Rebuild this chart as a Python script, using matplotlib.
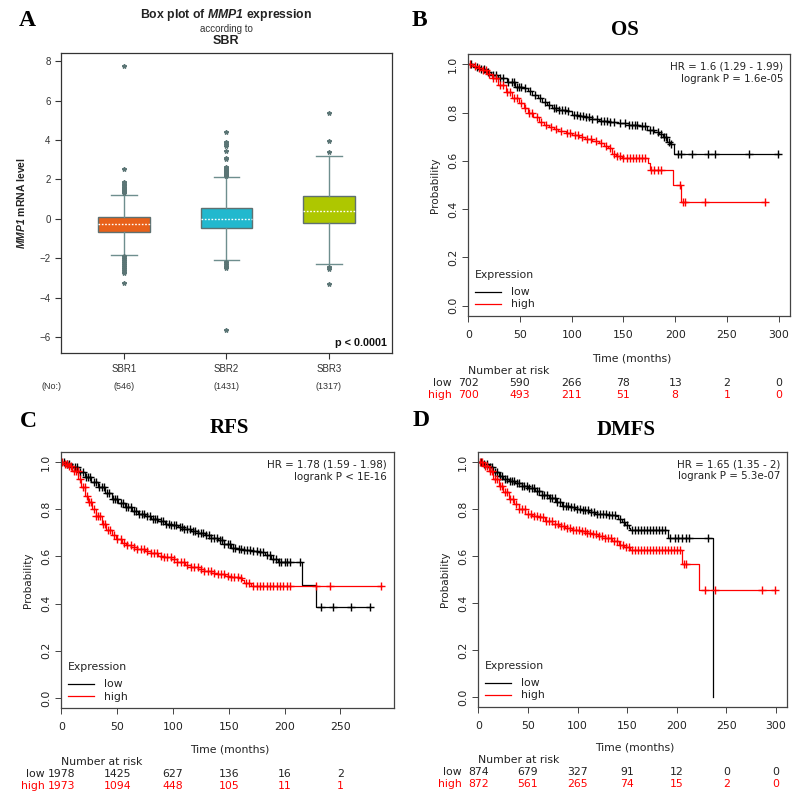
import numpy as np
import matplotlib
matplotlib.use("Agg")
import matplotlib.pyplot as plt
import matplotlib.transforms as mtransforms
from matplotlib.lines import Line2D

plt.rcParams['mathtext.fontset'] = 'custom'
plt.rcParams['mathtext.bfit'] = 'Liberation Sans:italic:bold'
plt.rcParams['mathtext.it'] = 'Liberation Sans:italic'

# ---------------- Panel A data ----------------
groups = ["SBR1", "SBR2", "SBR3"]
group_n = ["(546)", "(1431)", "(1317)"]
box_q1 = [-0.68, -0.48, -0.22]
box_med = [-0.25, 0.0, 0.38]
box_q3 = [0.08, 0.55, 1.18]
whisk_lo = [-1.82, -2.10, -2.30]
whisk_hi = [1.22, 2.10, 3.20]
fliers_sbr1 = [1.3, 1.35, 1.4, 1.45, 1.5, 1.55, 1.6, 1.7, 1.75, 1.85, 2.55, 7.75,
               -1.9, -2.0, -2.1, -2.2, -2.3, -2.4, -2.5, -2.6, -2.7, -2.75, -3.25]
fliers_sbr2 = [2.15, 2.2, 2.25, 2.3, 2.35, 2.4, 2.45, 2.5, 2.55, 2.6, 2.65, 3.05, 3.1,
               3.45, 3.7, 3.8, 3.9, 4.4, -2.2, -2.3, -2.4, -2.45, -2.5, -5.65]
fliers_sbr3 = [3.4, 3.95, 5.35, -2.45, -2.55, -3.3]
box_colors = ["#E8611A", "#22B8CE", "#AEC700"]

# ---------------- Panel B (OS) ----------------
B_low_t = [0, 5, 10, 16, 22, 29, 37, 45, 53, 58, 62, 67, 71, 76, 81, 88, 94, 100, 107, 113,
           120, 126, 135, 145, 155, 165, 173, 180, 184, 188, 192, 195, 198.5, 300]
B_low_s = [1.0, 0.99, 0.98, 0.969, 0.955, 0.942, 0.925, 0.907, 0.90, 0.888, 0.873, 0.86, 0.845,
           0.832, 0.818, 0.81, 0.807, 0.79, 0.786, 0.783, 0.775, 0.767, 0.762, 0.756, 0.75, 0.745,
           0.728, 0.72, 0.712, 0.70, 0.68, 0.672, 0.629, 0.629]
B_low_c = [3, 8, 12, 15, 19, 24, 27, 31, 34, 38, 42, 44, 47, 49, 51, 55, 60, 64, 69, 74, 78, 83,
           85, 88, 91, 93, 96, 102, 105, 108, 111, 114, 117, 120, 124, 128, 131, 134, 137, 141,
           147, 151, 155, 158, 161, 163, 168, 171, 176, 179, 183, 186, 189, 191, 194, 196, 203,
           205.6, 215.9, 231.4, 238.5, 271.3, 299.6]
B_high_t = [0, 5, 9, 13, 18, 23, 29, 36, 42, 49, 54, 58, 63, 68, 73, 78, 83, 87, 94, 100, 107,
            113, 120, 126, 131, 135.5, 138.7, 143, 148.4, 173.5, 175.7, 197.5, 205.9, 287.2]
B_high_s = [1.0, 0.995, 0.985, 0.976, 0.96, 0.942, 0.915, 0.887, 0.862, 0.838, 0.82, 0.797, 0.78,
            0.763, 0.75, 0.742, 0.733, 0.724, 0.716, 0.707, 0.70, 0.691, 0.682, 0.673, 0.662,
            0.652, 0.629, 0.62, 0.611, 0.59, 0.563, 0.50, 0.429, 0.429]
B_high_c = [2, 6, 10, 14, 17, 20, 24, 27, 31, 34, 37, 40, 44, 47, 51, 55, 59, 62, 66, 70, 75, 80,
            85, 90, 95, 98, 103, 106, 110, 115, 119, 123, 128, 133, 137, 141, 144, 147, 150, 153,
            156, 159, 162, 165, 168, 171, 177, 180, 183, 186, 204.9, 207.2, 209.8, 228.4, 287.2]
B_risk_t = [0, 50, 100, 150, 200, 250, 300]
B_risk_low = [702, 590, 266, 78, 13, 2, 0]
B_risk_high = [700, 493, 211, 51, 8, 1, 0]

# ---------------- Panel C (RFS) ----------------
C_low_t = [0, 4, 9.2, 15, 21.1, 27, 33, 39, 45, 51, 56.9, 63, 68.8, 75, 80.7, 87, 92.6, 98,
           104.5, 110, 116.4, 122, 128.3, 134, 140.2, 146, 152.2, 158, 164, 170, 176, 182,
           187.8, 193.8, 215.7, 228.5, 276.8]
C_low_s = [1.0, 0.992, 0.978, 0.958, 0.936, 0.914, 0.893, 0.868, 0.844, 0.826, 0.809, 0.794,
           0.781, 0.770, 0.760, 0.749, 0.739, 0.732, 0.725, 0.716, 0.707, 0.699, 0.690, 0.680,
           0.669, 0.652, 0.634, 0.630, 0.627, 0.622, 0.617, 0.604, 0.591, 0.577, 0.479, 0.385,
           0.385]
C_low_c = [2, 5, 7, 10, 12, 14, 17, 19, 22, 24, 26, 29, 31, 34, 36, 38, 41, 43, 46, 48, 50, 53,
           55, 58, 60, 62, 65, 67, 70, 72, 74, 77, 79, 82, 84, 86, 89, 91, 94, 96, 98, 101, 103,
           106, 108, 110, 113, 115, 118, 120, 122, 125, 127, 130, 132, 134, 137, 139, 142, 144,
           146, 149, 151, 154, 156, 159, 161, 164, 166, 169, 172, 175, 178, 181, 184, 187, 190,
           192, 195, 197, 200, 202, 205, 213.6, 232.6, 243.3, 259.4, 276.7]
C_high_t = [0, 3, 6.3, 10, 15.2, 18, 21.2, 24, 27.1, 31, 36, 40, 45, 49, 53.9, 58, 62.8, 68,
            74.7, 80, 86.6, 92, 98.5, 104, 110.5, 116, 122.4, 128, 134.3, 140, 146.2, 152,
            159.6, 162, 164, 170, 287.6]
C_high_s = [1.0, 0.993, 0.985, 0.962, 0.928, 0.895, 0.858, 0.83, 0.802, 0.77, 0.739, 0.714,
            0.690, 0.673, 0.659, 0.649, 0.640, 0.632, 0.622, 0.613, 0.603, 0.596, 0.589, 0.577,
            0.563, 0.555, 0.547, 0.539, 0.531, 0.524, 0.518, 0.514, 0.510, 0.50, 0.486, 0.475,
            0.475]
C_high_c = [1, 3, 5, 7, 9, 11, 13, 15, 17, 19, 21, 23, 25, 27, 29, 31, 33, 35, 37, 39, 42, 44,
            47, 50, 53, 56, 59, 62, 65, 68, 71, 74, 77, 80, 83, 86, 89, 92, 95, 98, 101, 104, 107,
            110, 113, 116, 119, 122, 125, 128, 131, 134, 137, 140, 143, 146, 149, 152, 155, 158,
            161, 165, 168, 172, 175, 178, 181, 184, 187, 190, 193, 196, 199, 202, 205, 228.4,
            240.4, 286]
C_risk_t = [0, 50, 100, 150, 200, 250]
C_risk_low = [1978, 1425, 627, 136, 16, 2]
C_risk_high = [1973, 1094, 448, 105, 11, 1]

# ---------------- Panel D (DMFS) ----------------
D_low_t = [0, 5, 10.4, 15, 20.5, 25, 30.6, 37, 44, 50, 57.5, 64, 70.9, 78, 84.4, 91, 97.8, 104,
           111.2, 118, 124.7, 131, 138.1, 141, 144.8, 148, 151.5, 153.2, 191.2, 236.2]
D_low_s = [1.0, 0.99, 0.977, 0.958, 0.942, 0.93, 0.921, 0.911, 0.900, 0.891, 0.879, 0.862, 0.846,
           0.83, 0.815, 0.808, 0.801, 0.794, 0.786, 0.781, 0.777, 0.773, 0.770, 0.758, 0.744,
           0.73, 0.719, 0.709, 0.678, 0.0]
D_low_c = [3, 6, 9, 12, 14, 17, 19, 22, 24, 27, 29, 32, 34, 36, 39, 41, 44, 46, 49, 51, 54, 56,
           59, 61, 64, 66, 69, 72, 74, 77, 79, 82, 85, 88, 90, 93, 96, 99, 102, 105, 108, 111, 114,
           117, 120, 123, 126, 129, 132, 135, 138, 143, 147, 150, 155, 158, 161, 164, 167, 170,
           173, 176, 179, 182, 185, 188, 193.5, 197.9, 201.6, 205.7, 209, 212.7, 231.5]
D_high_t = [0, 5, 10.4, 15, 20.5, 25, 30.6, 36, 40.7, 47.4, 54, 60.8, 67, 74.2, 81, 87.7, 94,
            101.1, 108, 114.5, 121, 127.9, 135, 141.4, 147, 153.2, 205.2, 222, 299.3]
D_high_s = [1.0, 0.985, 0.963, 0.93, 0.900, 0.872, 0.843, 0.82, 0.801, 0.779, 0.772, 0.765,
            0.751, 0.737, 0.728, 0.719, 0.712, 0.706, 0.70, 0.695, 0.686, 0.676, 0.662, 0.648,
            0.637, 0.627, 0.565, 0.454, 0.454]
D_high_c = [2, 4, 7, 9, 12, 14, 17, 19, 22, 24, 27, 29, 32, 35, 38, 41, 44, 47, 50, 53, 56, 59,
            62, 65, 68, 71, 74, 77, 80, 83, 86, 89, 92, 95, 98, 101, 104, 107, 110, 113, 116, 119,
            122, 125, 128, 131, 134, 137, 140, 143, 146, 149, 152, 155, 158, 161, 164, 167, 170,
            173, 176, 179, 182, 185, 188, 191, 194, 197, 200, 203, 207, 209.3, 228.1, 238.9,
            285.9, 299.3]
D_risk_t = [0, 50, 100, 150, 200, 250, 300]
D_risk_low = [874, 679, 327, 91, 12, 0, 0]
D_risk_high = [872, 561, 265, 74, 15, 2, 0]

W, H = 800, 799
fig = plt.figure(figsize=(W / 100, H / 100), dpi=100)


def fx(px):
    return px / W


def fy(py):
    return 1 - py / H


def axes_px(l, t, r, b):
    return fig.add_axes([fx(l), fy(b), (r - l) / W, (b - t) / H])


SERIF = "Liberation Serif"
ARIAL = "Liberation Sans"
KMF = "DejaVu Sans"

# ================= Panel A =================
axA = axes_px(61, 53, 392, 353)
stats = []
for i, fl in enumerate([fliers_sbr1, fliers_sbr2, fliers_sbr3]):
    stats.append(dict(med=box_med[i], q1=box_q1[i], q3=box_q3[i], whislo=whisk_lo[i],
                      whishi=whisk_hi[i], fliers=fl, label=groups[i]))
bp = axA.bxp(stats, positions=[1, 2, 3], widths=0.5, patch_artist=True, showfliers=True,
             boxprops=dict(edgecolor="#5E7070", linewidth=1.0),
             whiskerprops=dict(color="#6E8E8E", linewidth=1.0),
             capprops=dict(color="#6E8E8E", linewidth=1.0), capwidths=0.25,
             medianprops=dict(color="white", linestyle=(0, (1.2, 1.2)), linewidth=1.0),
             flierprops=dict(marker="*", markersize=3.2, markerfacecolor="#5B7575",
                             markeredgecolor="#5B7575", linestyle="none"))
for patch, c in zip(bp["boxes"], box_colors):
    patch.set_facecolor(c)
axA.set_xlim(0.385, 3.615)
axA.set_ylim(-6.81, 8.41)
axA.set_yticks([-6, -4, -2, 0, 2, 4, 6, 8])
axA.set_xticks([1, 2, 3])
axA.set_xticklabels(groups)
for s in axA.spines.values():
    s.set_color("#333333")
    s.set_linewidth(0.9)
axA.tick_params(axis="both", labelsize=7, length=4, width=0.8, color="#333333",
                labelcolor="#333333")
axA.tick_params(axis="x", pad=4)
for lab in axA.get_xticklabels() + axA.get_yticklabels():
    lab.set_fontfamily(ARIAL)
axA.set_ylabel(r"$\mathbfit{MMP1}$ mRNA level", fontsize=7.5, fontweight="bold",
               fontfamily=ARIAL, labelpad=9, color="#222222")
axA.text(0.985, 0.015, "p < 0.0001", transform=axA.transAxes, ha="right", va="bottom",
         fontsize=7.8, fontweight="bold", fontfamily=ARIAL, color="#111111")
fig.text(fx(226), fy(15), r"Box plot of $\mathbfit{MMP1}$ expression", ha="center",
         va="center", fontsize=8.8, fontweight="bold", fontfamily=ARIAL, color="#222222")
fig.text(fx(226), fy(28.5), "according to", ha="center", va="center", fontsize=7,
         fontfamily=ARIAL, color="#333333")
fig.text(fx(226), fy(41), "SBR", ha="center", va="center", fontsize=9, fontweight="bold",
         fontfamily=ARIAL, color="#222222")
trA = mtransforms.blended_transform_factory(axA.transData, fig.transFigure)
fig.text(fx(52), fy(387), "(No:)", ha="center", va="center", fontsize=6.5, fontfamily=ARIAL,
         color="#333333")
for i, n in enumerate(group_n):
    axA.text(i + 1, fy(387), n, transform=trA, ha="center", va="center", fontsize=6.5,
             fontfamily=ARIAL, color="#333333")
fig.text(fx(27), fy(20), "A", ha="center", va="center", fontsize=17, fontweight="bold",
         fontfamily=SERIF)


# ================= KM panels =================
def step_at(t, s, c):
    t = np.asarray(t)
    s = np.asarray(s)
    idx = np.searchsorted(t, np.asarray(c), side="right") - 1
    return s[np.clip(idx, 0, len(s) - 1)]


def km_panel(box, xmax, xticks, curves, hr_lines, title, title_xy, letter, letter_xy,
             risk_t, risk_low, risk_high, rows_y):
    l, t, r, b = box
    ax = axes_px(l, t, r, b)
    for (tt, ss, cc, col) in curves:
        ax.step(tt, ss, where="post", color=col, linewidth=0.9)
        ax.plot(cc, step_at(tt, ss, cc), linestyle="none", marker="+", markersize=5.5,
                markeredgewidth=1.0, color=col)
    ax.set_xlim(-0.3, xmax)
    ax.set_ylim(-0.043, 1.043)
    ax.set_xticks(xticks)
    ax.set_yticks([0, 0.2, 0.4, 0.6, 0.8, 1.0])
    ax.set_yticklabels(["0.0", "0.2", "0.4", "0.6", "0.8", "1.0"], rotation=90, va="center")
    for s in ax.spines.values():
        s.set_color("#444444")
        s.set_linewidth(0.9)
    ax.tick_params(axis="both", labelsize=7.8, length=4, width=0.7, color="#444444",
                   labelcolor="#222222")
    ax.tick_params(axis="x", pad=6)
    ax.tick_params(axis="y", pad=3)
    for lab in ax.get_xticklabels() + ax.get_yticklabels():
        lab.set_fontfamily(KMF)
    ax.set_ylabel("Probability", fontsize=7.5, fontfamily=KMF, labelpad=6, color="#222222")
    # HR text
    ax.text(0.978, 0.952, hr_lines[0], transform=ax.transAxes, ha="right", va="center",
            fontsize=7.4, fontfamily=KMF, color="#222222")
    ax.text(0.978, 0.904, hr_lines[1], transform=ax.transAxes, ha="right", va="center",
            fontsize=7.4, fontfamily=KMF, color="#222222")
    # legend
    handles = [Line2D([], [], color="black", lw=0.9), Line2D([], [], color="red", lw=0.9)]
    leg = ax.legend(handles, ["low", "high"], title="Expression", loc="lower left",
                    frameon=False, alignment="left", fontsize=7.8, title_fontsize=7.8,
                    handlelength=2.4, handletextpad=1.0, labelspacing=0.2,
                    borderaxespad=0.2, borderpad=0.4)
    leg._legend_box.sep = 5
    for txt in leg.get_texts():
        txt.set_fontfamily(KMF)
        txt.set_color("#222222")
    leg.get_title().set_fontfamily(KMF)
    leg.get_title().set_color("#222222")
    # time label and risk table
    tr = mtransforms.blended_transform_factory(ax.transData, fig.transFigure)
    y_time, y_nar, y_low, y_high = rows_y
    fig.text((l + r) / 2 / W + 0.003, fy(y_time), "Time (months)", ha="center", va="center",
             fontsize=7.8, fontfamily=KMF, color="#222222")
    ax.text(0, fy(y_nar), "Number at risk", transform=tr, ha="left", va="center",
            fontsize=7.8, fontfamily=KMF, color="#222222")
    off = mtransforms.ScaledTranslation(-0.17, 0, fig.dpi_scale_trans)
    ax.text(0, fy(y_low), "low", transform=tr + off, ha="right", va="center", fontsize=7.8,
            fontfamily=KMF, color="#222222")
    ax.text(0, fy(y_high), "high", transform=tr + off, ha="right", va="center", fontsize=7.8,
            fontfamily=KMF, color="red")
    for xt, a, bb in zip(risk_t, risk_low, risk_high):
        ax.text(xt, fy(y_low), str(a), transform=tr, ha="center", va="center", fontsize=7.8,
                fontfamily=KMF, color="#222222")
        ax.text(xt, fy(y_high), str(bb), transform=tr, ha="center", va="center",
                fontsize=7.8, fontfamily=KMF, color="red")
    fig.text(fx(title_xy[0]), fy(title_xy[1]), title, ha="center", va="center", fontsize=15,
             fontweight="bold", fontfamily=SERIF)
    fig.text(fx(letter_xy[0]), fy(letter_xy[1]), letter, ha="center", va="center", fontsize=17,
             fontweight="bold", fontfamily=SERIF)
    return ax


km_panel((468, 54, 790, 316), 311, [0, 50, 100, 150, 200, 250, 300],
         [(B_low_t, B_low_s, B_low_c, "black"), (B_high_t, B_high_s, B_high_c, "red")],
         ["HR = 1.6 (1.29 - 1.99)", "logrank P = 1.6e-05"], "OS", (625, 30), "B", (419, 20),
         B_risk_t, B_risk_low, B_risk_high, (359, 371, 383, 395))

km_panel((61, 452, 394, 708), 298, [0, 50, 100, 150, 200, 250],
         [(C_low_t, C_low_s, C_low_c, "black"), (C_high_t, C_high_s, C_high_c, "red")],
         ["HR = 1.78 (1.59 - 1.98)", "logrank P < 1E-16"], "RFS", (229, 428), "C", (28, 422),
         C_risk_t, C_risk_low, C_risk_high, (750, 762, 774, 786))

km_panel((478, 452, 787, 707), 311, [0, 50, 100, 150, 200, 250, 300],
         [(D_low_t, D_low_s, D_low_c, "black"), (D_high_t, D_high_s, D_high_c, "red")],
         ["HR = 1.65 (1.35 - 2)", "logrank P = 5.3e-07"], "DMFS", (626, 430), "D", (421, 421),
         D_risk_t, D_risk_low, D_risk_high, (748, 760, 772, 784))

fig.savefig("out.png", dpi=100)
